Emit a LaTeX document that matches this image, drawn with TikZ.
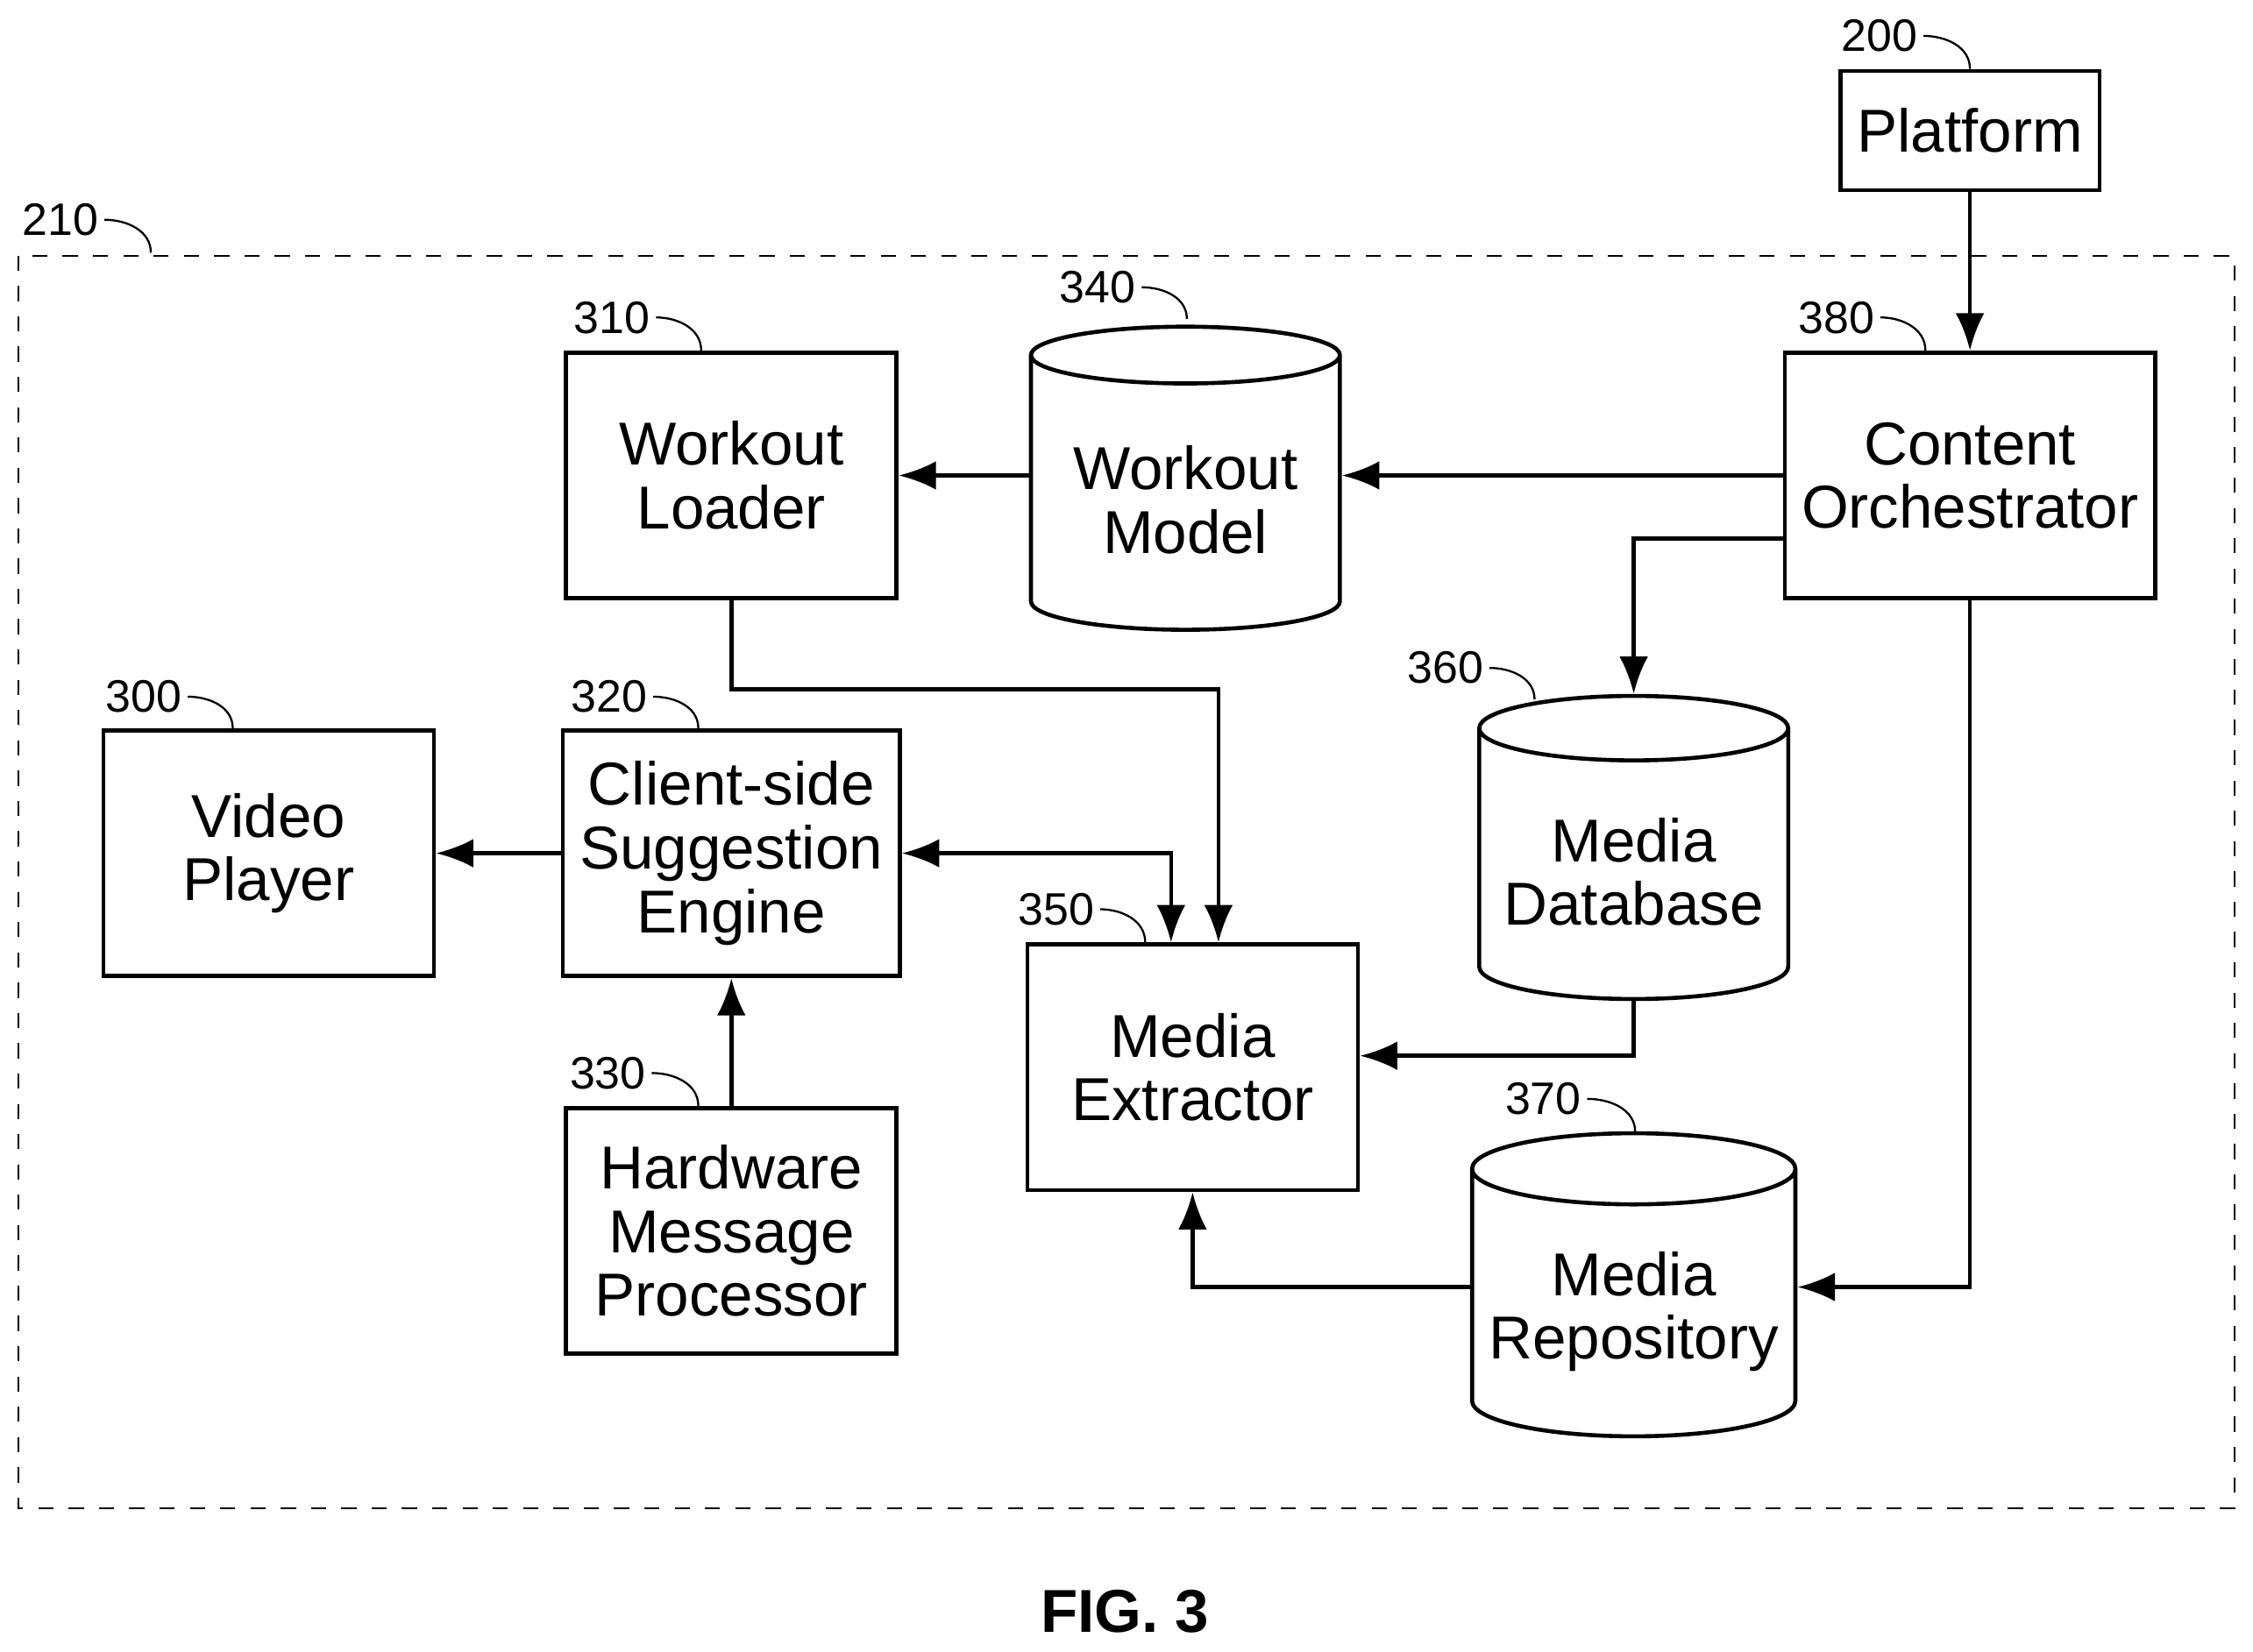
\documentclass[tikz,border=0pt]{standalone}
\usepackage{fontspec}
\setmainfont{Liberation Sans}
\usetikzlibrary{arrows.meta, positioning, shapes.geometric}

\tikzset{
  block/.style = {rectangle, draw=black, thick, minimum width=2.3cm, minimum height=1.71cm,
                  align=center, font=\fontsize{12}{12.6}\selectfont},
  store/.style = {cylinder, shape border rotate=90, draw=black, thick, aspect=0.22,
                  minimum width=2.15cm, minimum height=2.11cm, align=center,
                  font=\fontsize{12}{12.6}\selectfont},
  num/.style   = {font=\fontsize{9}{10}\selectfont, inner sep=1pt},
  hook/.style  = {thin},
  flow/.style  = {-{Latex[length=2.6mm,width=2mm]}, thick}
}

\begin{document}
\begin{tikzpicture}
\useasboundingbox (0,0) rectangle (15.68,-11.5);

% frame
\draw[dashed, thin] (0.13,-1.78) rectangle (15.55,-10.5);

% blocks
\node[block, minimum width=1.79cm, minimum height=0.83cm] (platform) at (13.71,-0.91) {Platform};
\node[block] (loader) at (5.09,-3.31) {Workout\\Loader};
\node[store] (model) at (8.25,-3.48) {Workout\\Model};
\node[block, minimum width=2.48cm] (orch) at (13.71,-3.31) {Content\\Orchestrator};
\node[block] (player) at (1.87,-5.94) {Video\\Player};
\node[block] (engine) at (5.09,-5.94) {Client-side\\Suggestion\\Engine};
\node[store] (mediadb) at (11.37,-6.07) {Media\\Database};
\node[block] (extractor) at (8.30,-7.43) {Media\\Extractor};
\node[block] (hardware) at (5.09,-8.57) {Hardware\\Message\\Processor};
\node[store] (repo) at (11.37,-9.13) {Media\\Repository};

\node[font=\bfseries\fontsize{12}{14}\selectfont] (fig) at (7.83,-11.22) {FIG. 3};

% reference numerals
\node[num] (n200) at (13.08,-0.25) {200};
\node[num] (n210) at (0.42,-1.53) {210};
\node[num] (n310) at (4.26,-2.21) {310};
\node[num] (n340) at (7.64,-2.00) {340};
\node[num] (n380) at (12.78,-2.21) {380};
\node[num] (n300) at (1.00,-4.85) {300};
\node[num] (n320) at (4.24,-4.85) {320};
\node[num] (n360) at (10.06,-4.65) {360};
\node[num] (n350) at (7.35,-6.33) {350};
\node[num] (n330) at (4.23,-7.47) {330};
\node[num] (n370) at (10.74,-7.65) {370};

\draw[hook] (n200.east) to[out=0, in=90] (13.71,-0.48);
\draw[hook] (n210.east) to[out=0, in=90] (1.05,-1.76);
\draw[hook] (n310.east) to[out=0, in=90] (4.88,-2.44);
\draw[hook] (n340.east) to[out=0, in=90] (8.26,-2.22);
\draw[hook] (n380.east) to[out=0, in=90] (13.40,-2.44);
\draw[hook] (n300.east) to[out=0, in=90] (1.62,-5.07);
\draw[hook] (n320.east) to[out=0, in=90] (4.86,-5.07);
\draw[hook] (n360.east) to[out=0, in=90] (10.68,-4.87);
\draw[hook] (n350.east) to[out=0, in=90] (7.97,-6.56);
\draw[hook] (n330.east) to[out=0, in=90] (4.86,-7.70);
\draw[hook] (n370.east) to[out=0, in=90] (11.38,-7.88);

% connectors
\draw[flow] (platform) -- (orch);
\draw[flow] (orch.west) -- (orch.west -| model.east);
\draw[flow] (model.west |- loader.east) -- (loader.east);
\draw[flow] (orch.west |- 0,-3.75) -| (mediadb.north);
\draw[flow] (loader.south) |- (8.48,-4.80) -- (extractor.north -| 8.48,0);
\draw[flow, {Latex[length=2.6mm,width=2mm]}-{Latex[length=2.6mm,width=2mm]}] (engine.east) -| (extractor.north -| 8.15,0);
\draw[flow] (engine) -- (player);
\draw[flow] (hardware) -- (engine);
\draw[flow] (mediadb.south) |- (extractor.east |- 0,-7.35);
\draw[flow] (orch.south) |- (repo.east |- 0,-8.96);
\draw[flow] (repo.west |- 0,-8.96) -| (extractor.south);
\end{tikzpicture}
\end{document}
